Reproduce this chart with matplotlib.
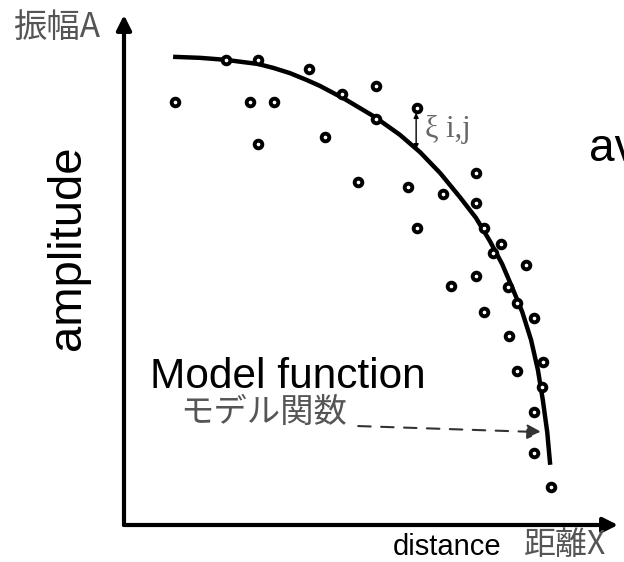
import numpy as np
import matplotlib.pyplot as plt

# measured amplitudes (distance, amplitude) in arbitrary units
dist = [1.04, 2.08, 2.73, 3.77, 2.57, 3.05, 2.73, 4.44, 5.13, 5.13, 4.09, 4.77,
        5.97, 5.78, 6.50, 7.17, 7.17, 5.97, 7.33, 7.68, 7.52, 8.19, 7.17, 6.66,
        7.82, 8.00, 7.33, 8.35, 7.84, 8.53, 8.00, 8.51, 8.35, 8.35, 8.70]
amp = [8.29, 9.12, 9.12, 8.94, 8.29, 8.29, 7.47, 8.45, 8.61, 7.96, 7.61, 6.73,
       8.18, 6.63, 6.49, 6.90, 6.31, 5.82, 5.82, 5.51, 5.33, 5.10, 4.88, 4.69,
       4.67, 4.35, 4.18, 4.06, 3.71, 3.20, 3.02, 2.71, 2.22, 1.41, 0.75]

# fitted model curve
model_x = [1.00, 1.55, 2.08, 2.40, 2.73, 3.05, 3.38, 3.71, 3.99, 4.50, 5.11,
           5.62, 6.03, 6.44, 6.84, 7.17, 7.45, 7.70, 7.90, 8.11, 8.29, 8.43,
           8.53, 8.62, 8.68]
model_y = [9.18, 9.16, 9.12, 9.08, 9.04, 8.96, 8.86, 8.73, 8.61, 8.35, 8.00,
           7.65, 7.31, 6.90, 6.43, 6.02, 5.57, 5.12, 4.67, 4.18, 3.63, 3.04,
           2.45, 1.82, 1.18]

# residual xi_ij shown for one point
xi_x = 5.95
xi_top, xi_bottom = 8.08, 7.37

W, H = 624, 562
fig = plt.figure(figsize=(W / 100, H / 100), dpi=100)
ax = fig.add_axes([124 / W, (H - 525) / H, (618 - 124) / W, (525 - 15) / H])
ax.set_xlim(0, 494 / 49.1)
ax.set_ylim(0, 10)
for s in ax.spines.values():
    s.set_visible(False)
ax.set_xticks([])
# small breaks in the vertical axis line
ax.set_yticks([0.63, 3.96, 7.29])
ax.tick_params(axis='y', colors='white', direction='inout', length=8, width=1,
               labelleft=False)

# axes with arrow heads
arrow_kw = dict(arrowstyle='-|>', lw=3, color='black', mutation_scale=22,
                shrinkA=0, shrinkB=0)
ax.annotate('', xy=(1, 0), xytext=(0, 0), xycoords='axes fraction',
            arrowprops=arrow_kw, zorder=2)
ax.annotate('', xy=(0, 1), xytext=(0, 0), xycoords='axes fraction',
            arrowprops=arrow_kw, zorder=2)

ax.plot(model_x, model_y, color='black', lw=3.2, solid_capstyle='butt',
        solid_joinstyle='round', zorder=3)
ax.plot(dist, amp, 'o', ms=5.5, mfc='white', mec='black', mew=2.8, zorder=4,
        clip_on=False)

ax.annotate('', xy=(xi_x, xi_bottom), xytext=(xi_x, xi_top),
            arrowprops=dict(arrowstyle='<|-|>', lw=1, color='black',
                            mutation_scale=7, shrinkA=0, shrinkB=0), zorder=5)
ax.text(6.13, 7.75, 'ξ i,j', family='Liberation Serif', fontsize=22,
        color='#666666', va='center', ha='left')

ax.annotate('', xy=(8.51, 1.82), xytext=(4.77, 1.94),
            arrowprops=dict(arrowstyle='-|>', lw=1.5, color='#333333',
                            linestyle=(0, (6, 5)), mutation_scale=22,
                            shrinkA=0, shrinkB=0), zorder=5)

sans = 'Liberation Sans'
cjk = ['Noto Sans CJK JP', 'DejaVu Sans']
gray = '#555555'

ax.text(0.53, 2.69, 'Model function', family=sans, fontsize=30.5,
        va='baseline', ha='left')
ax.text(1.14, 2.20, 'モデル関数', family=cjk, fontsize=24, color=gray,
        va='center', ha='left')

fig.text(13 / W, 1 - 27 / H, '振幅A', family=cjk, fontsize=24, color=gray,
         va='center', ha='left')
fig.text(68 / W, 1 - 248 / H, 'amplitude', family=sans, fontsize=34,
         rotation=90, va='center', ha='center')
fig.text(393 / W, 1 - 555 / H, 'distance', family=sans, fontsize=21,
         va='baseline', ha='left')
fig.text(524 / W, 1 - 545 / H, '距離X', family=cjk, fontsize=23, color=gray,
         va='center', ha='left')
fig.text(589 / W, 1 - 149 / H, 'average', family=sans, fontsize=33,
         va='center', ha='left')

fig.savefig('out.png', dpi=100)
